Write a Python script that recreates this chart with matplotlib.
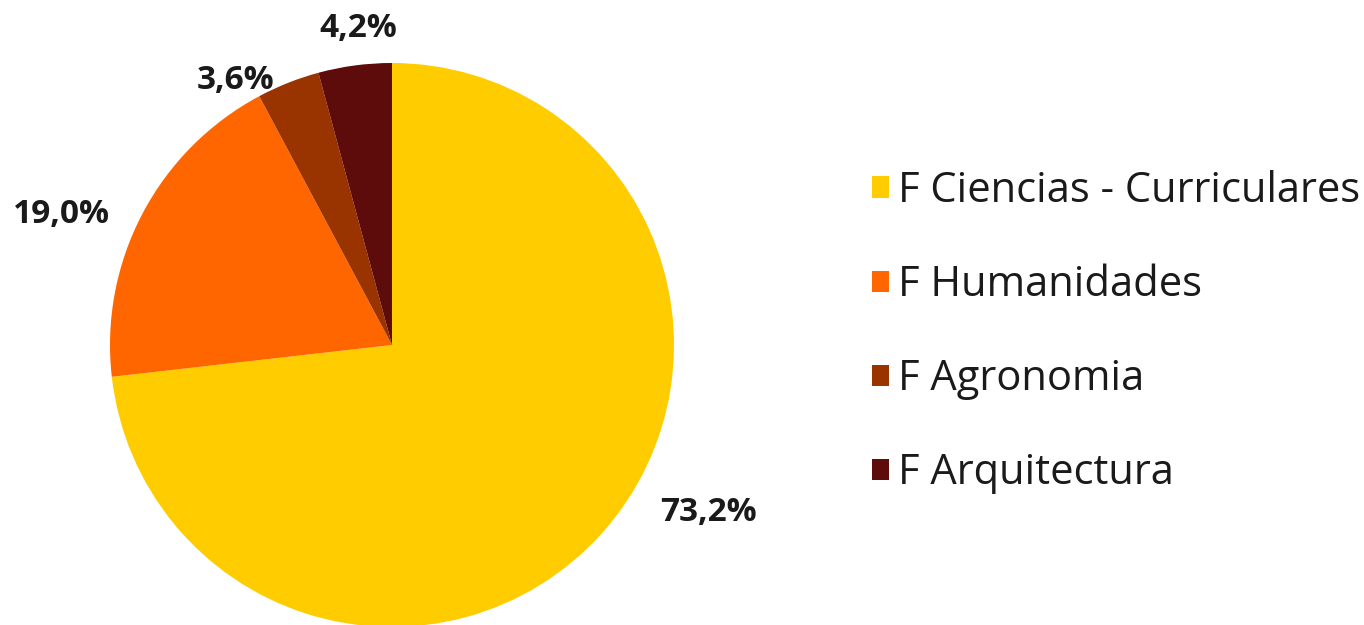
import numpy as np
import matplotlib.pyplot as plt
from matplotlib.patches import Patch

# Données
labels = ['F Ciencias - Curriculares', 'F Humanidades', 'F Agronomia', 'F Arquitectura']
values = [73.2, 19.0, 3.6, 4.2]
pct_labels = ['73,2%', '19,0%', '3,6%', '4,2%']
colors = ['#FFCC00', '#FF6600', '#993300', '#5E0B0B']

# placement des étiquettes (décalage d'angle en degrés, rayon relatif)
label_shift = [13.9, 6.2, 8.9, -1.5]
label_radius = [1.27, 1.26, 1.09, 1.13]

W, H = 1364, 625
fig = plt.figure(figsize=(W / 100, H / 100), dpi=100)
fig.patch.set_facecolor('white')

cx, cy, r = 392, 345, 282
ax = fig.add_axes([(cx - r) / W, (H - cy - r) / H, 2 * r / W, 2 * r / H])

wedges, _ = ax.pie(values, colors=colors, startangle=90, counterclock=False,
                   radius=1, wedgeprops=dict(linewidth=0))
ax.set_xlim(-1, 1)
ax.set_ylim(-1, 1)
ax.set_aspect('equal')
ax.axis('off')

for w, txt, dth, rr in zip(wedges, pct_labels, label_shift, label_radius):
    mid = np.deg2rad((w.theta1 + w.theta2) / 2 + dth)
    ax.text(rr * np.cos(mid), rr * np.sin(mid), txt, ha='center', va='center',
            fontsize=24, fontweight='bold', color='#1a1a1a', family='Open Sans',
            clip_on=False)

handles = [Patch(facecolor=c, edgecolor='none') for c in colors]
fig.legend(handles, labels, loc='center left', bbox_to_anchor=(872 / W, 1 - 332 / H),
           frameon=False, prop=dict(family='Open Sans', size=30), borderpad=0,
           borderaxespad=0, handlelength=0.4, handleheight=0.4, handletextpad=0.22,
           labelspacing=1.25, labelcolor='#1a1a1a')

fig.savefig('out.png', dpi=100, facecolor='white')
